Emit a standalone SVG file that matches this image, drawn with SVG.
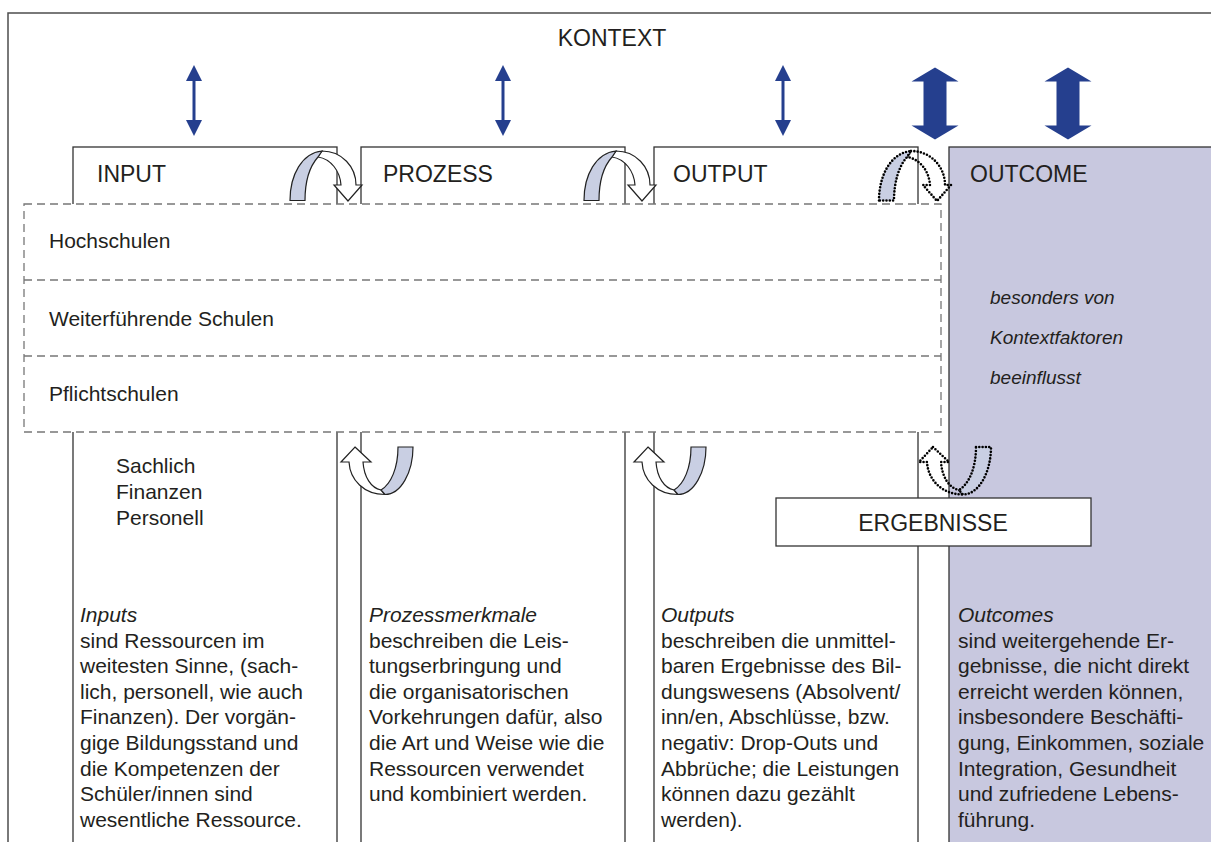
<svg xmlns="http://www.w3.org/2000/svg" width="1211" height="842" viewBox="0 0 1211 842">
<style>
.t{font-family:"Liberation Sans",Arial,sans-serif;fill:#231f20}
.h{font-size:23px}
.b{font-size:21px}
.i{font-style:italic}
.box{fill:#fff;stroke:#333;stroke-width:1.3}
.dash{fill:none;stroke:#777;stroke-width:1.3;stroke-dasharray:8 5}
.thin{stroke:#253f8e;stroke-width:3}
.thick{fill:#253f8e}
.back{fill:#c9cfe3;stroke:#222;stroke-width:1.2}
.front{fill:#fff;stroke:#222;stroke-width:1.2}
.dback{fill:#c9cfe3;stroke:#000;stroke-width:2.6;stroke-dasharray:0 3.3;stroke-linecap:round}
.dfront{fill:none;stroke:#000;stroke-width:2.6;stroke-dasharray:0 3.3;stroke-linecap:round}
</style>
<defs>
<path id="tb" d="M290,200.5 C290,175 302,153 322,151 L318,157 C310,166 305,182 305,200.5 Z"/>
<path id="tf" d="M322,151 C342,151 356,167 356,185 L362,185 L348,201 L334,185 L341,185 C340,171 331,159 318,157 Z"/>
<path id="bf" d="M355,447 L371,462 L363,462 C364,477 371,488 381,490 L385,494.5 C364,494.5 350,480 349,462 L341,462 Z"/>
<path id="bb" d="M398,447 L413,447 C413,472 401,494.5 385,494.5 L381,490 C391,484 398,468 398,447 Z"/>
<polygon id="ta" points="0,0 23.5,14 11.5,14 11.5,58 23.5,58 0,72 -23.5,58 -11.5,58 -11.5,14 -23.5,14"/>
</defs>
<rect width="1211" height="842" fill="#fff"/>
<g id="kontext">
<rect x="8" y="13" width="1220" height="850" fill="none" stroke="#4d4d4d" stroke-width="1.5"/>
<text class="t h" x="612" y="46" text-anchor="middle">KONTEXT</text>
</g>
<g id="input">
<rect class="box" x="73" y="147" width="264" height="720"/>
<text class="t h" x="97" y="182">INPUT</text>
</g>
<g id="prozess">
<rect class="box" x="361" y="147" width="264" height="720"/>
<text class="t h" x="383" y="182">PROZESS</text>
</g>
<g id="output">
<rect class="box" x="654" y="147" width="264" height="720"/>
<text class="t h" x="673" y="182">OUTPUT</text>
</g>
<g id="outcome">
<rect x="949" y="147" width="280" height="720" fill="#c8c8df" stroke="#333" stroke-width="1.3"/>
<text class="t h" x="970" y="182">OUTCOME</text>
</g>
<g id="schulen">
<rect x="24" y="204" width="917" height="228" fill="#fff"/>
<rect class="dash" x="24" y="204" width="917" height="228"/>
<line class="dash" x1="24" y1="280" x2="941" y2="280"/>
<line class="dash" x1="24" y1="356" x2="941" y2="356"/>
<text class="t b" x="49" y="248">Hochschulen</text>
<text class="t b" x="49" y="326">Weiterführende Schulen</text>
<text class="t b" x="49" y="401">Pflichtschulen</text>
</g>
<g id="ergebnisse">
<rect class="box" x="776" y="498" width="315" height="48"/>
<text class="t h" x="933" y="531" text-anchor="middle">ERGEBNISSE</text>
</g>
<g id="connectors">
<g class="thin">
<line x1="194" y1="78" x2="194" y2="123"/>
<line x1="503" y1="78" x2="503" y2="123"/>
<line x1="783" y1="78" x2="783" y2="123"/>
</g>
<g fill="#253f8e">
<polygon points="194,65 186,81 202,81"/><polygon points="194,136 186,120 202,120"/>
<polygon points="503,65 495,81 511,81"/><polygon points="503,136 495,120 511,120"/>
<polygon points="783,65 775,81 791,81"/><polygon points="783,136 775,120 791,120"/>
</g>
<use href="#ta" class="thick" x="935" y="67.5"/>
<use href="#ta" class="thick" x="1068" y="67.5"/>
<use href="#tf" class="front"/>
<use href="#tb" class="back"/>
<use href="#tf" class="front" x="294"/>
<use href="#tb" class="back" x="294"/>
<use href="#tf" class="dfront" x="589"/>
<use href="#tb" class="dback" x="589"/>
<use href="#bf" class="front"/>
<use href="#bb" class="back"/>
<use href="#bf" class="front" x="293"/>
<use href="#bb" class="back" x="293"/>
<use href="#bf" class="dfront" x="578"/>
<use href="#bb" class="dback" x="578"/>
</g>
<g id="input-text" class="t b">
<text x="116" y="473">Sachlich</text>
<text x="116" y="499">Finanzen</text>
<text x="116" y="525">Personell</text>
<text x="80" y="622"><tspan class="i">Inputs</tspan><tspan x="80" dy="25.6">sind Ressourcen im</tspan><tspan x="80" dy="25.6">weitesten Sinne, (sach-</tspan><tspan x="80" dy="25.6">lich, personell, wie auch</tspan><tspan x="80" dy="25.6">Finanzen). Der vorgän-</tspan><tspan x="80" dy="25.6">gige Bildungsstand und</tspan><tspan x="80" dy="25.6">die Kompetenzen der</tspan><tspan x="80" dy="25.6">Schüler/innen sind</tspan><tspan x="80" dy="25.6">wesentliche Ressource.</tspan></text>
</g>
<g id="prozess-text" class="t b">
<text x="369" y="622"><tspan class="i">Prozessmerkmale</tspan><tspan x="369" dy="25.6">beschreiben die Leis-</tspan><tspan x="369" dy="25.6">tungserbringung und</tspan><tspan x="369" dy="25.6">die organisatorischen</tspan><tspan x="369" dy="25.6">Vorkehrungen dafür, also</tspan><tspan x="369" dy="25.6">die Art und Weise wie die</tspan><tspan x="369" dy="25.6">Ressourcen verwendet</tspan><tspan x="369" dy="25.6">und kombiniert werden.</tspan></text>
</g>
<g id="output-text" class="t b">
<text x="661" y="622"><tspan class="i">Outputs</tspan><tspan x="661" dy="25.6">beschreiben die unmittel-</tspan><tspan x="661" dy="25.6">baren Ergebnisse des Bil-</tspan><tspan x="661" dy="25.6">dungswesens (Absolvent/</tspan><tspan x="661" dy="25.6">inn/en, Abschlüsse, bzw.</tspan><tspan x="661" dy="25.6">negativ: Drop-Outs und</tspan><tspan x="661" dy="25.6">Abbrüche; die Leistungen</tspan><tspan x="661" dy="25.6">können dazu gezählt</tspan><tspan x="661" dy="25.6">werden).</tspan></text>
</g>
<g id="outcome-text" class="t b">
<text class="i" x="990" y="304" font-size="19">besonders von</text>
<text class="i" x="990" y="344" font-size="19">Kontextfaktoren</text>
<text class="i" x="990" y="384" font-size="19">beeinflusst</text>
<text x="958" y="622"><tspan class="i">Outcomes</tspan><tspan x="958" dy="25.6">sind weitergehende Er-</tspan><tspan x="958" dy="25.6">gebnisse, die nicht direkt</tspan><tspan x="958" dy="25.6">erreicht werden können,</tspan><tspan x="958" dy="25.6">insbesondere Beschäfti-</tspan><tspan x="958" dy="25.6">gung, Einkommen, soziale</tspan><tspan x="958" dy="25.6">Integration, Gesundheit</tspan><tspan x="958" dy="25.6">und zufriedene Lebens-</tspan><tspan x="958" dy="25.6">führung.</tspan></text>
</g>
</svg>
